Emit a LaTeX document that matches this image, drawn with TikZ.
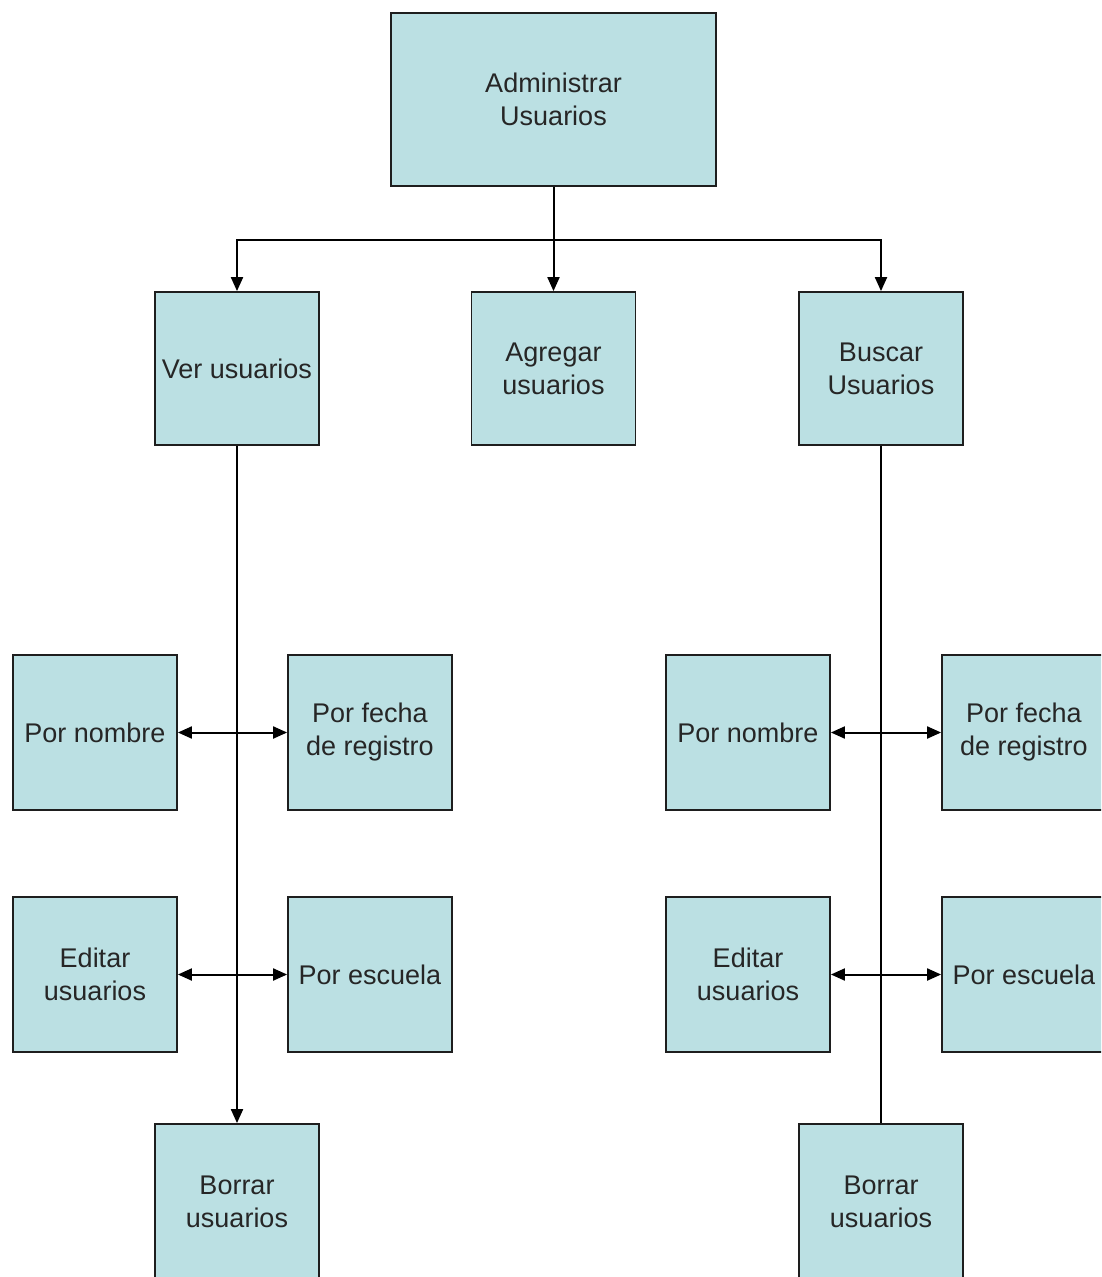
\documentclass[tikz,border=0pt]{standalone}
\usepackage{fontspec}
\setmainfont{Liberation Sans}
\usetikzlibrary{arrows.meta}
\definecolor{boxfill}{RGB}{187,224,227}
\definecolor{boxline}{RGB}{30,30,30}
\tikzset{
  box/.style={draw=boxline, fill=boxfill, line width=1.8pt, inner sep=0pt,
    minimum width=164pt, minimum height=155pt, align=center,
    font=\fontsize{27}{33}\selectfont, text=black!85},
  conn/.style={line width=2pt, black},
  tip/.style={-{Triangle[length=14pt,width=12pt]}},
  dtip/.style={{Triangle[length=14pt,width=12pt]}-{Triangle[length=14pt,width=12pt]}}
}
\begin{document}
\begin{tikzpicture}[x=1pt,y=-1pt]
\useasboundingbox (0,0) rectangle (1101,1277);
\fill[white] (0,0) rectangle (1101,1277);
\clip (0,0) rectangle (1101,1277);
\node[box, minimum width=325pt, minimum height=173pt] (top) at (553.5,99.5) {Administrar\\Usuarios};
\node[box, minimum height=153pt] (ver) at (237,368.5) {Ver usuarios};
\node[box, minimum height=153pt] (agr) at (553.5,368.5) {Agregar\\usuarios};
\node[box, minimum height=153pt] (bus) at (881,368.5) {Buscar\\Usuarios};
\node[box] (pn1) at (95,732.5) {Por nombre};
\node[box] (pf1) at (370,732.5) {Por fecha\\de registro};
\node[box] (ed1) at (95,974.5) {Editar\\usuarios};
\node[box] (pe1) at (370,974.5) {Por escuela};
\node[box] (br1) at (237,1201.5) {Borrar\\usuarios};
\node[box] (pn2) at (748,732.5) {Por nombre};
\node[box] (pf2) at (1024,732.5) {Por fecha\\de registro};
\node[box] (ed2) at (748,974.5) {Editar\\usuarios};
\node[box] (pe2) at (1024,974.5) {Por escuela};
\node[box] (br2) at (881,1201.5) {Borrar\\usuarios};
\coordinate (split) at (553.5,240);
\draw[conn] (top.south) -- (split);
\draw[conn,tip] (split) -| (ver.north);
\draw[conn,tip] (split) -- (agr.north);
\draw[conn,tip] (split) -| (bus.north);
\draw[conn,tip] (ver.south) -- (br1.north);
\draw[conn] (bus.south) -- (br2.north);
\draw[conn,dtip] (pn1.east) -- (pf1.west);
\draw[conn,dtip] (ed1.east) -- (pe1.west);
\draw[conn,dtip] (pn2.east) -- (pf2.west);
\draw[conn,dtip] (ed2.east) -- (pe2.west);
\end{tikzpicture}
\end{document}
